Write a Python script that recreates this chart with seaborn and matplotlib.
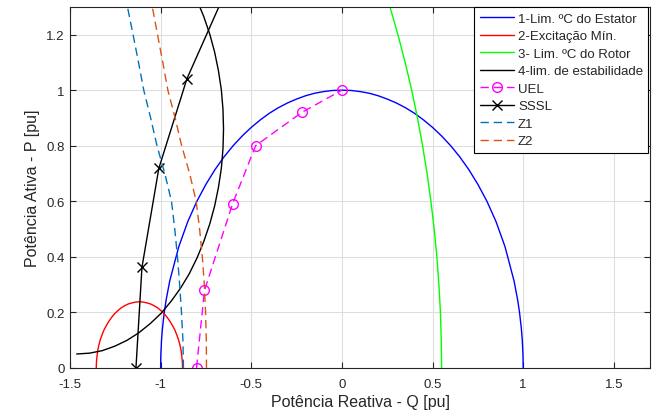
import numpy as np
import pandas as pd
import seaborn as sns
import matplotlib.pyplot as plt

sns.set_theme(style="white")
plt.rcParams['font.family'] = ['Liberation Sans', 'DejaVu Sans']

# curves (Q, P in pu)
estator_q = [-1.0, -0.999, -0.995, -0.99, -0.98, -0.97, -0.95, -0.9, -0.85, -0.8, -0.75, -0.7,
             -0.65, -0.6, -0.55, -0.5, -0.45, -0.4, -0.35, -0.3, -0.25, -0.2, -0.15, -0.1,
             -0.05, 0.0, 0.05, 0.1, 0.15, 0.2, 0.25, 0.3, 0.35, 0.4, 0.45, 0.5, 0.55, 0.6,
             0.65, 0.7, 0.75, 0.8, 0.85, 0.9, 0.95, 0.97, 0.98, 0.99, 0.995, 0.999, 1.0]
estator_p = [0.0, 0.045, 0.1, 0.141, 0.199, 0.243, 0.312, 0.436, 0.527, 0.6, 0.661, 0.714,
             0.76, 0.8, 0.835, 0.866, 0.893, 0.917, 0.937, 0.954, 0.968, 0.98, 0.989, 0.995,
             0.999, 1.0, 0.999, 0.995, 0.989, 0.98, 0.968, 0.954, 0.937, 0.917, 0.893, 0.866,
             0.835, 0.8, 0.76, 0.714, 0.661, 0.6, 0.527, 0.436, 0.312, 0.243, 0.199, 0.141,
             0.1, 0.045, 0.0]

excit_q = [-1.355, -1.354, -1.351, -1.347, -1.341, -1.333, -1.323, -1.312, -1.299, -1.285,
           -1.27, -1.254, -1.236, -1.218, -1.198, -1.179, -1.158, -1.138, -1.117, -1.096,
           -1.076, -1.055, -1.036, -1.016, -0.998, -0.98, -0.964, -0.949, -0.935, -0.922,
           -0.911, -0.901, -0.893, -0.887, -0.883, -0.88, -0.879]
excit_p = [0.0, 0.021, 0.041, 0.062, 0.081, 0.101, 0.119, 0.137, 0.153, 0.168, 0.182, 0.195,
           0.206, 0.216, 0.224, 0.23, 0.234, 0.237, 0.238, 0.237, 0.234, 0.23, 0.224, 0.216,
           0.206, 0.195, 0.182, 0.168, 0.153, 0.137, 0.119, 0.101, 0.081, 0.062, 0.041,
           0.021, 0.0]

rotor_q = [0.55, 0.548, 0.5435, 0.535, 0.524, 0.509, 0.491, 0.470, 0.445, 0.417, 0.385, 0.349,
           0.309, 0.265, 0.241]
rotor_p = [0.0, 0.1, 0.2, 0.3, 0.4, 0.5, 0.6, 0.7, 0.8, 0.9, 1.0, 1.1, 1.2, 1.3, 1.35]

estab_q = [-1.463, -1.392, -1.322, -1.253, -1.186, -1.121, -1.058, -0.998, -0.942, -0.89,
           -0.842, -0.799, -0.762, -0.729, -0.702, -0.681, -0.665, -0.656, -0.653, -0.656,
           -0.665, -0.681, -0.702, -0.729, -0.762, -0.799]
estab_p = [0.05, 0.053, 0.062, 0.078, 0.099, 0.126, 0.159, 0.196, 0.24, 0.287, 0.339, 0.396,
           0.455, 0.518, 0.583, 0.65, 0.719, 0.789, 0.86, 0.931, 1.001, 1.07, 1.137, 1.202,
           1.265, 1.324]

uel_q = [-0.802, -0.758, -0.603, -0.476, -0.221, 0.0]
uel_p = [0.0, 0.279, 0.591, 0.80, 0.92, 1.0]

sssl_q = [-1.136, -1.103, -1.01, -0.855, -0.665]
sssl_p = [0.0, 0.362, 0.718, 1.041, 1.32]

z1_q = [-0.874, -0.877, -0.885, -0.895, -0.907, -0.922, -0.94, -0.977, -1.02, -1.055, -1.093,
        -1.122, -1.152, -1.183, -1.198]
z1_p = [0.0, 0.1, 0.2, 0.3, 0.4, 0.5, 0.6, 0.7, 0.8, 0.9, 1.0, 1.1, 1.2, 1.3, 1.35]

z2_q = [-0.747, -0.748, -0.752, -0.759, -0.77, -0.785, -0.804, -0.84, -0.884, -0.92, -0.96,
        -0.988, -1.017, -1.046]
z2_p = [0.0, 0.1, 0.2, 0.3, 0.4, 0.5, 0.6, 0.7, 0.8, 0.9, 1.0, 1.1, 1.2, 1.3]

fig = plt.figure(figsize=(6.54, 4.14), dpi=100)
ax = fig.add_axes([0.107, 0.109, 0.887, 0.872])

lw = 1.0
dash = (6, 3.5)
sns.lineplot(x=estator_q, y=estator_p, sort=False, estimator=None, color='#0000ff', lw=lw,
             label='1-Lim. ºC do Estator', ax=ax)
sns.lineplot(x=excit_q, y=excit_p, sort=False, estimator=None, color='#ff0000', lw=lw,
             label='2-Excitação Mín.', ax=ax)
sns.lineplot(x=rotor_q, y=rotor_p, sort=False, estimator=None, color='#00ff00', lw=lw,
             label='3- Lim. ºC do Rotor', ax=ax)
sns.lineplot(x=estab_q, y=estab_p, sort=False, estimator=None, color='black', lw=lw,
             label='4-lim. de estabilidade', ax=ax)
sns.lineplot(x=uel_q, y=uel_p, sort=False, estimator=None, color='#ff00ff', lw=lw,
             linestyle=(0, dash), marker='o', ms=7, markerfacecolor='none',
             markeredgecolor='#ff00ff', markeredgewidth=1.0, label='UEL', ax=ax)
sns.lineplot(x=sssl_q, y=sssl_p, sort=False, estimator=None, color='black', lw=lw,
             marker='x', ms=7, markeredgecolor='black', markeredgewidth=1.0,
             label='SSSL', ax=ax)
sns.lineplot(x=z1_q, y=z1_p, sort=False, estimator=None, color='#0072bd', lw=lw,
             linestyle=(0, dash), label='Z1', ax=ax)
sns.lineplot(x=z2_q, y=z2_p, sort=False, estimator=None, color='#d95319', lw=lw,
             linestyle=(0, dash), label='Z2', ax=ax)

ax.set_xlim(-1.5, 1.7)
ax.set_ylim(0, 1.3)
ax.set_xticks([-1.5, -1, -0.5, 0, 0.5, 1, 1.5])
ax.set_xticklabels(['-1.5', '-1', '-0.5', '0', '0.5', '1', '1.5'])
ax.set_yticks([0, 0.2, 0.4, 0.6, 0.8, 1.0, 1.2])
ax.set_yticklabels(['0', '0.2', '0.4', '0.6', '0.8', '1', '1.2'])
ax.grid(True, color='#dedede', lw=0.8)
ax.set_axisbelow(True)
ax.tick_params(direction='in', length=4, width=0.8, colors='#262626', labelsize=9.5,
               top=True, right=True, bottom=True, left=True, pad=4)
ax.tick_params(axis='x', pad=7)
for s in ax.spines.values():
    s.set_color('#262626')
    s.set_linewidth(0.8)

ax.set_xlabel('Potência Reativa - Q [pu]', fontsize=11.5, color='#262626', labelpad=3.5)
ax.set_ylabel('Potência Ativa - P [pu]', fontsize=11.5, color='#262626', labelpad=4)

leg = ax.legend(loc='upper right', bbox_to_anchor=(0.997, 0.999), borderaxespad=0,
                fontsize=9.5, frameon=True, fancybox=False, edgecolor='black',
                framealpha=1, handlelength=2.6, handletextpad=0.3, labelspacing=0.4,
                borderpad=0.4)
leg.get_frame().set_linewidth(0.8)

fig.savefig('out.png', dpi=100)
